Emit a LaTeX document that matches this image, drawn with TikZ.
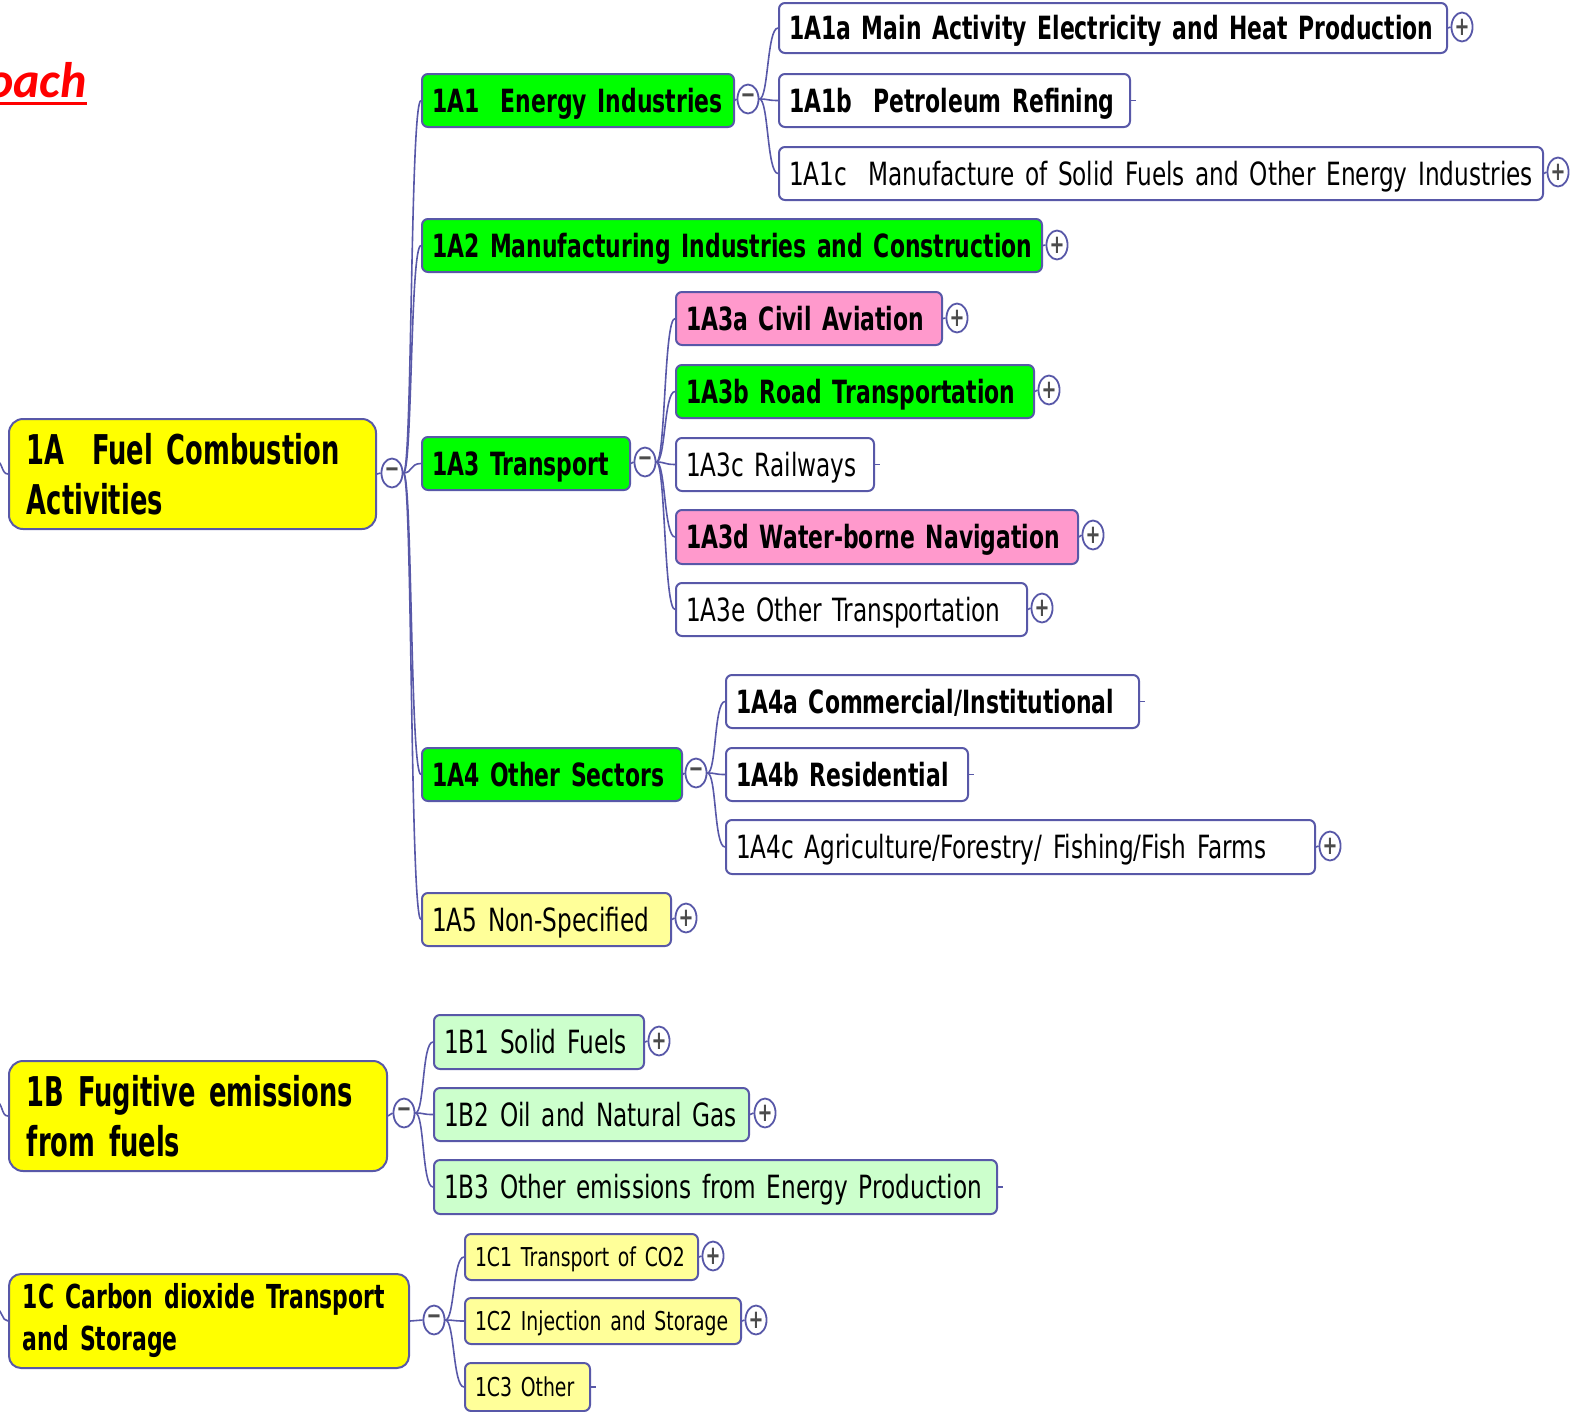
\documentclass[tikz,border=0pt]{standalone}
\usepackage{fontspec}
\setmainfont{DejaVu Sans}[UprightFeatures={FakeStretch=0.725}, BoldFeatures={FakeStretch=0.685}]
\newfontfamily\mainfam{DejaVu Sans}[BoldFeatures={FakeStretch=0.628}]
\newfontfamily\cfam{DejaVu Sans}[BoldFeatures={FakeStretch=0.665}]
\newfontfamily\calibfont{Carlito}
\usetikzlibrary{shapes.geometric}
\definecolor{bord}{RGB}{88,88,168}
\definecolor{gfill}{RGB}{0,255,0}
\definecolor{pfill}{RGB}{255,153,204}
\definecolor{yfill}{RGB}{255,255,0}
\definecolor{lyfill}{RGB}{255,255,153}
\definecolor{lgfill}{RGB}{204,255,204}
\tikzset{
  topic/.style={draw=bord, line width=2pt, rounded corners=6pt, anchor=north west,
    align=left, inner xsep=10pt, inner ysep=0pt, text height=23.3pt, text depth=0pt,
    font=\fontsize{32}{36}\selectfont},
  bold/.style={font=\fontsize{32}{36}\selectfont\bfseries},
  tiny/.style={font=\fontsize{26}{30}\selectfont, text height=19pt},
  maintopic/.style={draw=bord, line width=2pt, rounded corners=14pt, anchor=north west,
    align=left, inner xsep=18pt, inner ysep=0pt, fill=yfill,
    font=\mainfam\fontsize{41}{50}\selectfont\bfseries},
  tog/.style={ellipse, draw=bord, line width=1.8pt, fill=white, minimum width=21pt,
    minimum height=29pt, inner sep=0pt, font=\fontsize{26}{26}\selectfont\bfseries, text=black!70},
  conn/.style={draw=bord, line width=1.6pt},
}
\newcommand\tnode[7]{\pgfmathsetmacro\tw{#5-20}%
  \node[topic,#1,text width=\tw pt,minimum height=#6pt] (#2) at (#3,#4) {\mbox{#7}};}
\newcommand\mnode[7]{\pgfmathsetmacro\tw{#5-36}%
  \node[maintopic,#1,text width=\tw pt,minimum height=#6pt] (#2) at (#3,#4) {#7};}
\newcommand\kid[2]{\draw[conn] (#1) .. controls +(9,0) and +(-11,0) .. (#2.west);}
\newcommand\stub[1]{\draw[conn] (#1.east) -- ++(5,0);}
\newcommand\tl[1]{\draw[conn] (#1.east) -- (#1-t.west);}
\begin{document}
\begin{tikzpicture}[x=1pt,y=-1pt]
\useasboundingbox (0,0) rectangle (1576,1411);
% title fragment
\node[anchor=base east, text=red, inner sep=0pt, font=\calibfont\fontsize{50}{50}\selectfont\bfseries\itshape] (ap) at (87,97) {Approach};
\draw[red, line width=3pt] ([yshift=-6pt]ap.base west) -- ([yshift=-6pt]ap.base east);
% main topics
\mnode{}{A}{8}{418}{367}{110}{\mbox{1A\ \ Fuel Combustion}\\\mbox{Activities}}
\mnode{}{B}{8}{1060}{378}{110}{\mbox{1B Fugitive emissions}\\\mbox{from fuels}}
\mnode{font=\cfam\fontsize{33}{42}\selectfont\bfseries, rounded corners=12pt, inner xsep=14pt}{C}{8}{1273}{408}{94}{\mbox{1C Carbon dioxide Transport}\\\mbox{and Storage}}
\node[tog] (A-t) at (392,473) {−};
\node[tog] (B-t) at (404,1113) {−};
\node[tog] (C-t) at (434,1320) {−};
\tl{A}\tl{B}\tl{C}
\coordinate (inA) at (-4,461);
\coordinate (inB) at (-4,1102);
\coordinate (inC) at (-4,1309);
\draw[conn] (inA) to[out=0,in=180] (A.west);
\draw[conn] (inB) to[out=0,in=180] (B.west);
\draw[conn] (inC) to[out=0,in=180] (C.west);
% 1A children
\tnode{fill=gfill,bold}{a1}{421}{73}{312}{53}{1A1\ \ Energy Industries}
\tnode{fill=gfill,bold}{a2}{421}{218}{620}{53}{1A2 Manufacturing Industries and Construction}
\tnode{fill=gfill,bold}{a3}{421}{436}{208}{53}{1A3 Transport}
\tnode{fill=gfill,bold}{a4}{421}{747}{260}{53}{1A4 Other Sectors}
\tnode{fill=lyfill}{a5}{421}{892}{249}{53}{1A5 Non-Specified}
\node[tog] (a1-t) at (748,99) {−};
\node[tog] (a2-t) at (1057,245) {+};
\node[tog] (a3-t) at (645,462) {−};
\node[tog] (a4-t) at (696,773) {−};
\node[tog] (a5-t) at (686,918) {+};
\tl{a1}\tl{a2}\tl{a3}\tl{a4}\tl{a5}
\kid{A-t.east}{a1}\kid{A-t.east}{a2}\kid{A-t.east}{a3}\kid{A-t.east}{a4}\kid{A-t.east}{a5}
% 1A1 children
\tnode{fill=white,bold}{a1a}{778}{2}{668}{50}{1A1a Main Activity Electricity and Heat Production}
\tnode{fill=white,bold}{a1b}{778}{73}{351}{53}{1A1b\ \ Petroleum Refining}
\tnode{fill=white}{a1c}{778}{146}{764}{53}{1A1c\ \ Manufacture of Solid Fuels and Other Energy Industries}
\node[tog] (a1a-t) at (1462,27) {+};
\node[tog] (a1c-t) at (1558,172) {+};
\tl{a1a}\tl{a1c}\stub{a1b}
\kid{a1-t.east}{a1a}\kid{a1-t.east}{a1b}\kid{a1-t.east}{a1c}
% 1A3 children
\tnode{fill=pfill,bold}{a3a}{675}{291}{266}{53}{1A3a Civil Aviation}
\tnode{fill=gfill,bold}{a3b}{675}{364}{358}{53}{1A3b Road Transportation}
\tnode{fill=white}{a3c}{675}{437}{198}{53}{1A3c Railways}
\tnode{fill=pfill,bold}{a3d}{675}{509}{402}{54}{1A3d Water-borne Navigation}
\tnode{fill=white}{a3e}{675}{582}{351}{53}{1A3e Other Transportation}
\node[tog] (a3a-t) at (957,318) {+};
\node[tog] (a3b-t) at (1049,390) {+};
\node[tog] (a3d-t) at (1093,535) {+};
\node[tog] (a3e-t) at (1042,608) {+};
\tl{a3a}\tl{a3b}\tl{a3d}\tl{a3e}\stub{a3c}
\kid{a3-t.east}{a3a}\kid{a3-t.east}{a3b}\kid{a3-t.east}{a3c}\kid{a3-t.east}{a3d}\kid{a3-t.east}{a3e}
% 1A4 children
\tnode{fill=white,bold}{a4a}{725}{674}{413}{53}{1A4a Commercial/Institutional}
\tnode{fill=white,bold}{a4b}{725}{747}{242}{53}{1A4b Residential}
\tnode{fill=white}{a4c}{725}{819}{589}{54}{1A4c Agriculture/Forestry/ Fishing/Fish Farms}
\node[tog] (a4c-t) at (1330,846) {+};
\tl{a4c}\stub{a4a}\stub{a4b}
\kid{a4-t.east}{a4a}\kid{a4-t.east}{a4b}\kid{a4-t.east}{a4c}
% 1B children
\tnode{fill=lgfill}{b1}{433}{1014}{210}{54}{1B1 Solid Fuels}
\tnode{fill=lgfill}{b2}{433}{1087}{315}{53}{1B2 Oil and Natural Gas}
\tnode{fill=lgfill}{b3}{433}{1159}{563}{54}{1B3 Other emissions from Energy Production}
\node[tog] (b1-t) at (659,1041) {+};
\node[tog] (b2-t) at (765,1113) {+};
\tl{b1}\tl{b2}\stub{b3}
\kid{B-t.east}{b1}\kid{B-t.east}{b2}\kid{B-t.east}{b3}
% 1C children
\tnode{fill=lyfill,tiny}{c1}{464}{1233}{233}{46}{1C1 Transport of CO2}
\tnode{fill=lyfill,tiny}{c2}{464}{1297}{276}{46}{1C2 Injection and Storage}
\tnode{fill=lyfill,tiny}{c3}{464}{1362}{125}{48}{1C3 Other}
\node[tog] (c1-t) at (713,1256) {+};
\node[tog] (c2-t) at (756,1320) {+};
\tl{c1}\tl{c2}\stub{c3}
\kid{C-t.east}{c1}\kid{C-t.east}{c2}\kid{C-t.east}{c3}
\end{tikzpicture}
\end{document}
